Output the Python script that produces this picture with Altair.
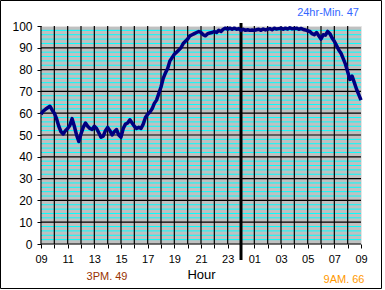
import altair as alt
import pandas as pd

# Readings every 10 minutes starting 09:00 (offset hours from 09:00)
humidity = [
    59.5, 61.0, 61.8, 62.5, 63.2, 61.5,   # 09
    60.0, 57.5, 54.0, 51.5, 50.5, 52.0,   # 10
    53.0, 54.5, 57.5, 54.0, 50.0, 47.0,   # 11
    50.5, 53.5, 55.5, 54.0, 53.0, 52.5,   # 12
    54.0, 53.0, 51.0, 49.0, 49.5, 52.0,   # 13
    53.5, 52.0, 50.0, 51.5, 52.5, 50.0,   # 14
    49.0, 53.0, 55.0, 55.5, 57.0, 55.5,   # 15
    54.0, 53.0, 53.5, 53.0, 55.0, 58.0,   # 16
    59.5, 60.5, 62.0, 64.5, 66.0, 69.0,   # 17
    72.0, 76.0, 78.5, 80.5, 84.0, 85.5,   # 18
    87.0, 88.0, 89.0, 90.0, 92.0, 93.0,   # 19
    94.0, 95.5, 96.0, 96.5, 97.0, 97.5,   # 20
    97.0, 96.0, 95.5, 96.5, 96.8, 97.0,   # 21
    97.5, 97.0, 98.0, 97.5, 98.5, 99.0,   # 22
    98.5, 99.0, 98.5, 99.0, 98.5, 98.8,   # 23
    98.0, 98.5, 98.0, 98.3, 98.0, 98.2,   # 00
    98.0, 98.3, 98.5, 98.0, 98.6, 98.2,   # 01
    98.5, 98.8, 98.3, 99.0, 98.6, 98.8,   # 02
    99.0, 98.5, 99.0, 98.6, 99.2, 98.7,   # 03
    98.8, 99.0, 98.5, 98.9, 98.4, 98.2,   # 04
    97.8, 97.5, 96.5, 96.0, 97.0, 95.5,   # 05
    94.0, 96.0, 95.8, 97.5, 96.5, 94.5,   # 06
    93.0, 91.0, 89.0, 87.5, 85.0, 82.5,   # 07
    79.0, 75.5, 77.0, 74.0, 71.0, 68.5,   # 08
    66.0,                                 # 09
]
step_minutes = 10
hour_ticks = list(range(0, 25))
major_y = [0, 10, 20, 30, 40, 50, 60, 70, 80, 90]
minor_y = [v for v in range(2, 100, 2) if v % 10 != 0]
major_x = list(range(0, 24))
midnight = [15]
min_label = ["24hr-Min. 47"]
pm_label = ["3PM. 49"]
am_label = ["9AM. 66"]

df = pd.DataFrame({
    "t": [i * step_minutes / 60 for i in range(len(humidity))],
    "v": humidity,
})

FONT = "Liberation Sans"
label_expr = ("datum.value % 2 == 0 ? (((9 + datum.value) % 24) < 10 ? '0' : '') + "
              "((9 + datum.value) % 24) : ''")
xaxis = alt.Axis(values=hour_ticks, labelExpr=label_expr, title="Hour", grid=False,
                 domain=False, tickColor="black", tickSize=4, labelFlush=False,
                 labelOverlap=False, labelFont=FONT, labelFontSize=11, labelColor="black",
                 labelPadding=5, titleFont=FONT, titleFontSize=13, titleFontWeight="normal",
                 titleColor="black", titlePadding=4)
yaxis = alt.Axis(values=list(range(0, 101, 10)), title=None, grid=False, domain=False,
                 tickColor="black", tickSize=4, labelFont=FONT, labelFontSize=12,
                 labelColor="black", labelPadding=5)
xs = alt.Scale(domain=[0, 24], nice=False, zero=False)
ys = alt.Scale(domain=[0, 100], nice=False)

minor = alt.Chart(pd.DataFrame({"y": minor_y})).mark_rule(color="#00FFFF", strokeWidth=1).encode(
    y=alt.Y("y:Q", scale=ys, axis=yaxis))
hmajor = alt.Chart(pd.DataFrame({"y": major_y})).mark_rule(color="black", strokeWidth=1.2).encode(
    y=alt.Y("y:Q", scale=ys, axis=yaxis))
vmajor = alt.Chart(pd.DataFrame({"x": major_x})).mark_rule(color="black", strokeWidth=1.2).encode(
    x=alt.X("x:Q", scale=xs, axis=xaxis))
mid = alt.Chart(pd.DataFrame({"x": midnight})).mark_rule(color="black", strokeWidth=3).encode(
    x=alt.X("x:Q", scale=xs, axis=xaxis), y=alt.value(-3), y2=alt.value(234))

line = alt.Chart(df).mark_line(color="#000080", strokeWidth=3.5, strokeJoin="round").encode(
    x=alt.X("t:Q", scale=xs, axis=xaxis),
    y=alt.Y("v:Q", scale=ys, axis=yaxis),
)

t1 = alt.Chart(pd.DataFrame({"s": min_label})).mark_text(
    font=FONT, fontSize=11, color="#3366FF", align="center", baseline="bottom").encode(
    x=alt.value(287), y=alt.value(-8), text="s:N")
t2 = alt.Chart(pd.DataFrame({"s": pm_label})).mark_text(
    font=FONT, fontSize=11, color="#993300", align="center", baseline="bottom").encode(
    x=alt.value(66), y=alt.value(256), text="s:N")
t3 = alt.Chart(pd.DataFrame({"s": am_label})).mark_text(
    font=FONT, fontSize=11, color="#FF9900", align="center", baseline="bottom").encode(
    x=alt.value(303), y=alt.value(259), text="s:N")

border = alt.Chart(pd.DataFrame({"s": [1]})).mark_rect(
    filled=False, stroke="black", strokeWidth=1).encode(
    x=alt.value(-40.5), x2=alt.value(340.5), y=alt.value(-25.5), y2=alt.value(262.5))

chart = alt.layer(minor, hmajor, vmajor, mid, line, t1, t2, t3, border).properties(
    width=320, height=218,
    padding={"left": 41, "top": 26, "right": 24, "bottom": 46},
    autosize=alt.AutoSizeParams(type="none"),
    background="white",
).configure_view(fill="#C0C0C0", stroke="#E4E4E4", strokeWidth=1)

chart.save("out.html", embed_options={"renderer": "svg", "actions": False})
